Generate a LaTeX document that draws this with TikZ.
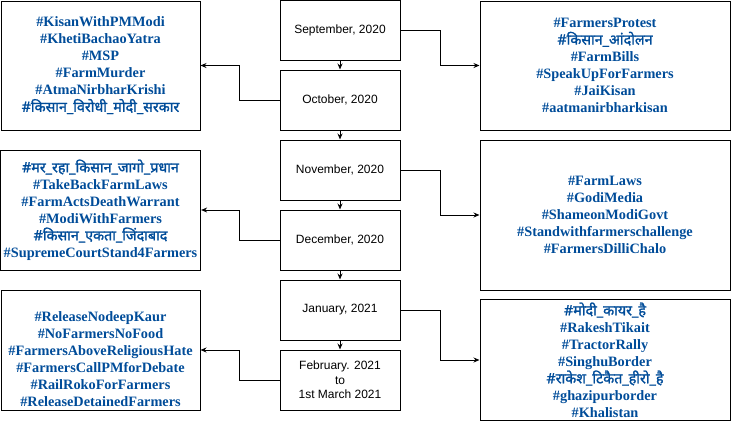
\documentclass[tikz,border=0pt]{standalone}
\usepackage{fontspec}
\setmainfont{Liberation Serif}
\setsansfont{Liberation Sans}
\newfontfamily\devafont[Script=Devanagari, AutoFakeBold=1.5]{Noto Sans}
\newcommand{\hindi}[1]{{\devafont #1}}
\usepackage{tikz}
\usetikzlibrary{arrows.meta, positioning}
\usepackage{xcolor}
\definecolor{TagBlue}{HTML}{004C99}
\definecolor{LineBlack}{HTML}{000000}
\tikzset{
    % Box styles - plain rectangles
    monthbox/.style={
        rectangle,
        draw=LineBlack,
        line width=1pt,
        minimum width=120pt,
        minimum height=60pt,
        align=center,
        font=\sffamily\fontsize{12}{14.5}\selectfont
    },
    tagbox/.style={
        rectangle,
        draw=LineBlack,
        line width=1pt,
        align=center,
        text=TagBlue,
        font=\bfseries\fontsize{14.3}{17}\selectfont
    },
    tagtext/.style={
        align=center,
        inner sep=0pt,
        text=TagBlue,
        font=\bfseries\fontsize{14.3}{17}\selectfont
    },
    % Arrow styles - elbow lines
    arrow/.style={
        -{Stealth[length=6pt,width=5pt]},
        line width=1pt,
        draw=LineBlack
    }
}
\begin{document}
\begin{tikzpicture}[x=1pt, y=-1pt]
    \useasboundingbox (0,0) rectangle (731,437);

    % months
    \node[monthbox] (sep) at (340,30) {September, 2020};
    \node[monthbox] (oct) at (340,100) {October, 2020};
    \node[monthbox] (nov) at (340,170) {November, 2020};
    \node[monthbox] (dec) at (340,240) {December, 2020};
    \node[monthbox] (jan) at (340,310) {January, 2021};
    \node[monthbox] (feb) at (340,380) {February. 2021\\to\\1st March 2021};

    % hashtags, right side
    \node[tagbox, minimum width=250pt, minimum height=129pt] (septags) at (605,65.5) {%
        \#FarmersProtest\\
        \hindi{\#किसान\_आंदोलन}\\
        \#FarmBills\\
        \#SpeakUpForFarmers\\
        \#JaiKisan\\
        \#aatmanirbharkisan};
    \node[tagbox, minimum width=250pt, minimum height=150pt] (novtags) at (605,215) {%
        \#FarmLaws\\
        \#GodiMedia\\
        \#ShameonModiGovt\\
        \#Standwithfarmerschallenge\\
        \#FarmersDilliChalo};
    \node[tagbox, minimum width=250pt, minimum height=120pt] (jantags) at (605,360) {%
        \hindi{\#मोदी\_कायर\_है}\\
        \#RakeshTikait\\
        \#TractorRally\\
        \#SinghuBorder\\
        \hindi{\#राकेश\_टिकैत\_हीरो\_है}\\
        \#ghazipurborder\\
        \#Khalistan};

    % hashtags, left side
    \node[tagbox, minimum width=199pt, minimum height=129pt] (octtags) at (100.5,65.5) {%
        \#KisanWithPMModi\\
        \#KhetiBachaoYatra\\
        \#MSP\\
        \#FarmMurder\\
        \#AtmaNirbharKrishi\\
        \hindi{\#किसान\_विरोधी\_मोदी\_सरकार}};
    \node[tagbox, minimum width=199pt, minimum height=120pt] (dectags) at (100.5,210) {%
        \hindi{\#मर\_रहा\_किसान\_जागो\_प्रधान}\\
        \#TakeBackFarmLaws\\
        \#FarmActsDeathWarrant\\
        \#ModiWithFarmers\\
        \hindi{\#किसान\_एकता\_जिंदाबाद}\\
        \#SupremeCourtStand4Farmers};
    \node[tagbox, minimum width=199pt, minimum height=120pt] (febtags) at (100.5,350) {};
    \node[tagtext] (febtext) at (100.5,359) {%
        \#ReleaseNodeepKaur\\
        \#NoFarmersNoFood\\
        \#FarmersAboveReligiousHate\\
        \#FarmersCallPMforDebate\\
        \#RailRokoForFarmers\\
        \#ReleaseDetainedFarmers};

    % timeline
    \foreach \a/\b in {sep/oct, oct/nov, nov/dec, dec/jan, jan/feb}
        \draw[arrow] (\a) -- (\b);

    % month to hashtags
    \foreach \m in {sep, nov, jan}
        \draw[arrow] (\m.east) -- ++(40,0) |- (\m tags.west);
    \foreach \m in {oct, dec, feb}
        \draw[arrow] (\m.west) -- ++(-40,0) |- (\m tags.east);
\end{tikzpicture}
\end{document}
